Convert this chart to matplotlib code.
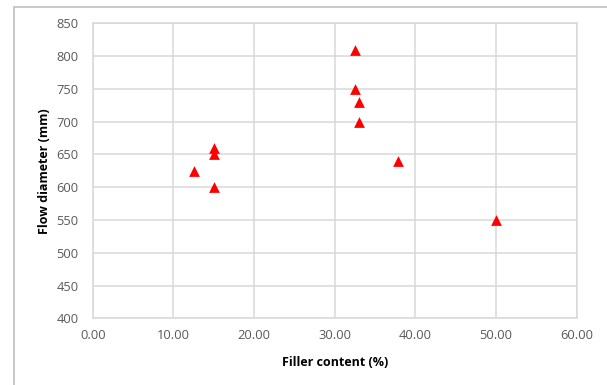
import matplotlib
matplotlib.use("Agg")
import matplotlib.pyplot as plt
from matplotlib.patches import Rectangle

# filler content (%) vs flow diameter (mm)
filler_content = [12.5, 15.0, 15.0, 15.0, 32.5, 32.5, 33.0, 33.0, 37.8, 50.0]
flow_diameter = [625, 660, 650, 600, 810, 750, 730, 700, 640, 550]

x_ticks = [0, 10, 20, 30, 40, 50, 60]
y_ticks = [400, 450, 500, 550, 600, 650, 700, 750, 800, 850]

plt.rcParams["font.family"] = ["Open Sans", "DejaVu Sans"]

fig = plt.figure(figsize=(6.07, 3.85), dpi=100)
ax = fig.add_axes([0.1527, 0.1732, 0.7973, 0.7663])

# chart frame around the whole plot
fig.patches.append(Rectangle((14 / 607, -0.1), 1.2, 1 - 7 / 385 + 0.1,
                             transform=fig.transFigure, fill=False,
                             edgecolor="#bfbfbf", linewidth=1.2))

ax.scatter(filler_content, flow_diameter, marker="^", s=60,
           color="#ff0000", zorder=3, linewidths=0)

ax.set_xlim(0, 60)
ax.set_ylim(400, 850)
ax.set_xticks(x_ticks)
ax.set_xticklabels([f"{v:.2f}" for v in x_ticks])
ax.set_yticks(y_ticks)
ax.grid(True, color="#d9d9d9", linewidth=1.1)
ax.set_axisbelow(True)
for s in ax.spines.values():
    s.set_color("#d9d9d9")
    s.set_linewidth(1.1)
ax.tick_params(length=0, colors="#595959", labelsize=9.3)
ax.tick_params(axis="y", pad=10)
ax.tick_params(axis="x", pad=8)

ax.set_xlabel("Filler content (%)", fontsize=9, fontweight="bold", labelpad=10)
ax.set_ylabel("Flow diameter (mm)", fontsize=9, fontweight="bold", labelpad=4)

fig.savefig("out.png", dpi=100)
